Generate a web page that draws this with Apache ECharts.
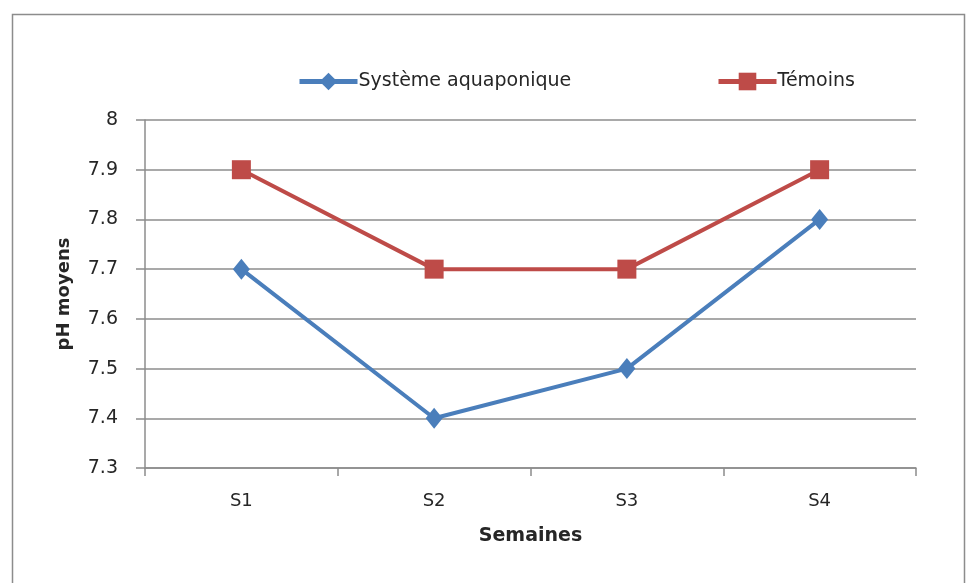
<!DOCTYPE html>
<html><head><meta charset="utf-8">
<script src="https://cdn.jsdelivr.net/npm/echarts@6/dist/echarts.min.js"></script>
<style>html,body{margin:0;padding:0;background:#fff}#c{width:973px;height:583px}</style>
</head><body><div id="c"></div>
<script>
const categories = ['S1','S2','S3','S4'];
const aquaponique = [7.7, 7.4, 7.5, 7.8];
const temoins = [7.9, 7.7, 7.7, 7.9];
const seriesNames = ['Système aquaponique','Témoins'];

const chart = echarts.init(document.getElementById('c'));
const font = 'DejaVu Sans';
const legendCommon = {
  top:67, itemWidth:58, itemHeight:22, itemGap:0,
  lineStyle:{width:5},
  textStyle:{fontFamily:font,fontSize:19,color:'#262626',padding:[0,0,0,-4]}
};
chart.setOption({
  backgroundColor:'#fff',
  animation:false,
  graphic:[{type:'rect',shape:{x:12.5,y:14.5,width:952,height:600},style:{fill:'none',stroke:'#8c8c8c',lineWidth:1.5}}],
  legend:[
    Object.assign({left:292,data:[seriesNames[0]]},legendCommon),
    Object.assign({left:711,data:[seriesNames[1]]},legendCommon)
  ],
  grid:{left:145,right:57,top:120,bottom:115},
  xAxis:{
    type:'category', data:categories, boundaryGap:true,
    axisLine:{lineStyle:{color:'#8c8c8c',width:1.5}},
    axisTick:{show:true,length:8,lineStyle:{color:'#8c8c8c',width:1.5}},
    axisLabel:{fontFamily:font,fontSize:18,color:'#262626',margin:24},
    name:'Semaines', nameLocation:'middle', nameGap:59,
    nameTextStyle:{fontFamily:font,fontSize:19,fontWeight:'bold',color:'#262626'}
  },
  yAxis:{
    type:'value', min:7.3, max:8, interval:0.1,
    axisLine:{show:true,lineStyle:{color:'#8c8c8c',width:1.5}},
    axisTick:{show:true,length:9,lineStyle:{color:'#8c8c8c',width:1.5}},
    splitLine:{lineStyle:{color:'#8c8c8c',width:1.5}},
    axisLabel:{fontFamily:font,fontSize:19,color:'#262626',margin:27,formatter:v=>String(parseFloat(v.toFixed(1)))},
    name:'pH moyens', nameLocation:'middle', nameGap:72,
    nameTextStyle:{fontFamily:font,fontSize:18,fontWeight:'bold',color:'#262626'}
  },
  series:[
    {name:seriesNames[0],type:'line',data:aquaponique,symbol:'diamond',symbolSize:[17,21],
     lineStyle:{color:'#4A7EBB',width:4},itemStyle:{color:'#4A7EBB'}},
    {name:seriesNames[1],type:'line',data:temoins,symbol:'rect',symbolSize:19,
     lineStyle:{color:'#BE4B48',width:4},itemStyle:{color:'#BE4B48'}}
  ]
});
</script></body></html>
